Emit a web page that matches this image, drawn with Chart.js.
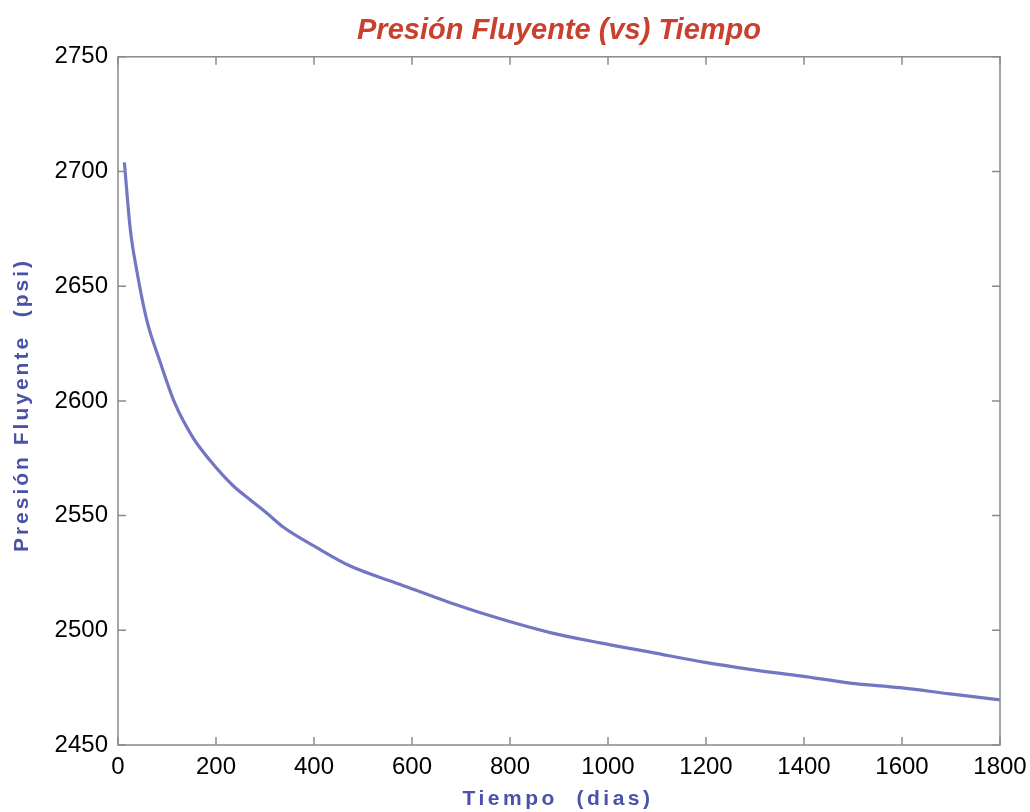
<!DOCTYPE html>
<html>
<head>
<meta charset="utf-8">
<script src="https://cdn.jsdelivr.net/npm/chart.js@4.4.1/dist/chart.umd.min.js"></script>
<style>
  html, body { margin: 0; padding: 0; background: #fff; }
  #chart { display: block; }
</style>
</head>
<body>
<canvas id="chart" width="1030" height="812"></canvas>
<script>
// tiempo (dias) y presion fluyente (psi)
const dias = [13, 25, 39, 59, 86, 116, 153, 188, 235, 269, 304, 337, 406, 474, 576, 678, 780, 882, 984, 1086, 1198, 1290, 1396, 1494, 1596, 1698, 1800];
const presion = [2704, 2675, 2656, 2635, 2617, 2599, 2584, 2574, 2563, 2557, 2551, 2545, 2536, 2528, 2520, 2512, 2505, 2499, 2494.5, 2490.5, 2486, 2483, 2480, 2477, 2475, 2472.3, 2469.7];

const xTicks = [0, 200, 400, 600, 800, 1000, 1200, 1400, 1600, 1800];
const yTicks = [2450, 2500, 2550, 2600, 2650, 2700, 2750];

const titulo = 'Presión Fluyente (vs) Tiempo';
const tituloX = 'Tiempo  (dias)';
const tituloY = 'Presión Fluyente  (psi)';

const puntos = dias.map((d, i) => ({ x: d, y: presion[i] }));

const tickFont = { family: 'Liberation Sans, Arial, sans-serif', size: 24 };

// marco y marcas hacia adentro (estilo matlab) + titulos de ejes
const marcoPlugin = {
    id: 'marco',
    afterDraw(chart) {
        const ctx = chart.ctx;
        const a = chart.chartArea;
        const xs = chart.scales.x;
        const ys = chart.scales.y;
        ctx.save();
        ctx.strokeStyle = '#8a8a8a';
        ctx.lineWidth = 1.5;
        ctx.strokeRect(a.left, a.top, a.right - a.left, a.bottom - a.top);

        const len = 8;
        ctx.beginPath();
        xTicks.forEach(v => {
            const px = xs.getPixelForValue(v);
            ctx.moveTo(px, a.bottom); ctx.lineTo(px, a.bottom - len);
            ctx.moveTo(px, a.top); ctx.lineTo(px, a.top + len);
        });
        yTicks.forEach(v => {
            const py = ys.getPixelForValue(v);
            ctx.moveTo(a.left, py); ctx.lineTo(a.left + len, py);
            ctx.moveTo(a.right, py); ctx.lineTo(a.right - len, py);
        });
        ctx.stroke();

        // titulos de ejes con espaciado de letras
        ctx.fillStyle = '#4a52a8';
        ctx.font = 'bold 21px "Liberation Sans", Arial, sans-serif';
        ctx.letterSpacing = '3.5px';
        ctx.textAlign = 'center';
        ctx.textBaseline = 'middle';
        ctx.fillText(tituloX, 558, 799);

        ctx.letterSpacing = '3px';
        ctx.translate(22, 405);
        ctx.rotate(-Math.PI / 2);
        ctx.fillText(tituloY, 0, 0);
        ctx.restore();
    }
};

new Chart(document.getElementById('chart'), {
    type: 'line',
    data: {
        datasets: [{
            data: puntos,
            borderColor: '#7276c3',
            borderWidth: 3.2,
            pointRadius: 0,
            cubicInterpolationMode: 'monotone',
            fill: false
        }]
    },
    options: {
        responsive: false,
        animation: false,
        layout: { padding: { left: 0, right: 30, top: 0, bottom: 0 } },
        plugins: {
            legend: { display: false },
            tooltip: { enabled: false },
            title: {
                display: true,
                fullSize: false,
                text: titulo,
                color: '#c9402e',
                font: { family: 'Liberation Sans, Arial, sans-serif', size: 29, weight: 'bold', style: 'italic' },
                padding: { top: 14, bottom: 8 }
            }
        },
        scales: {
            x: {
                type: 'linear',
                min: 0,
                max: 1800,
                afterBuildTicks: s => { s.ticks = xTicks.map(v => ({ value: v })); },
                afterFit: s => { s.height = 67; s.paddingRight = 0; s.paddingLeft = 0; },
                grid: { display: false, drawTicks: false },
                border: { display: false },
                ticks: { color: '#000', font: tickFont, padding: 8, maxRotation: 0, callback: v => String(v) }
            },
            y: {
                min: 2450,
                max: 2750,
                afterBuildTicks: s => { s.ticks = yTicks.map(v => ({ value: v })); },
                afterFit: s => { s.width = 118; s.paddingTop = 0; s.paddingBottom = 0; },
                grid: { display: false, drawTicks: false },
                border: { display: false },
                ticks: { color: '#000', font: tickFont, padding: 10, callback: v => String(v) }
            }
        }
    },
    plugins: [marcoPlugin]
});
</script>
</body>
</html>
